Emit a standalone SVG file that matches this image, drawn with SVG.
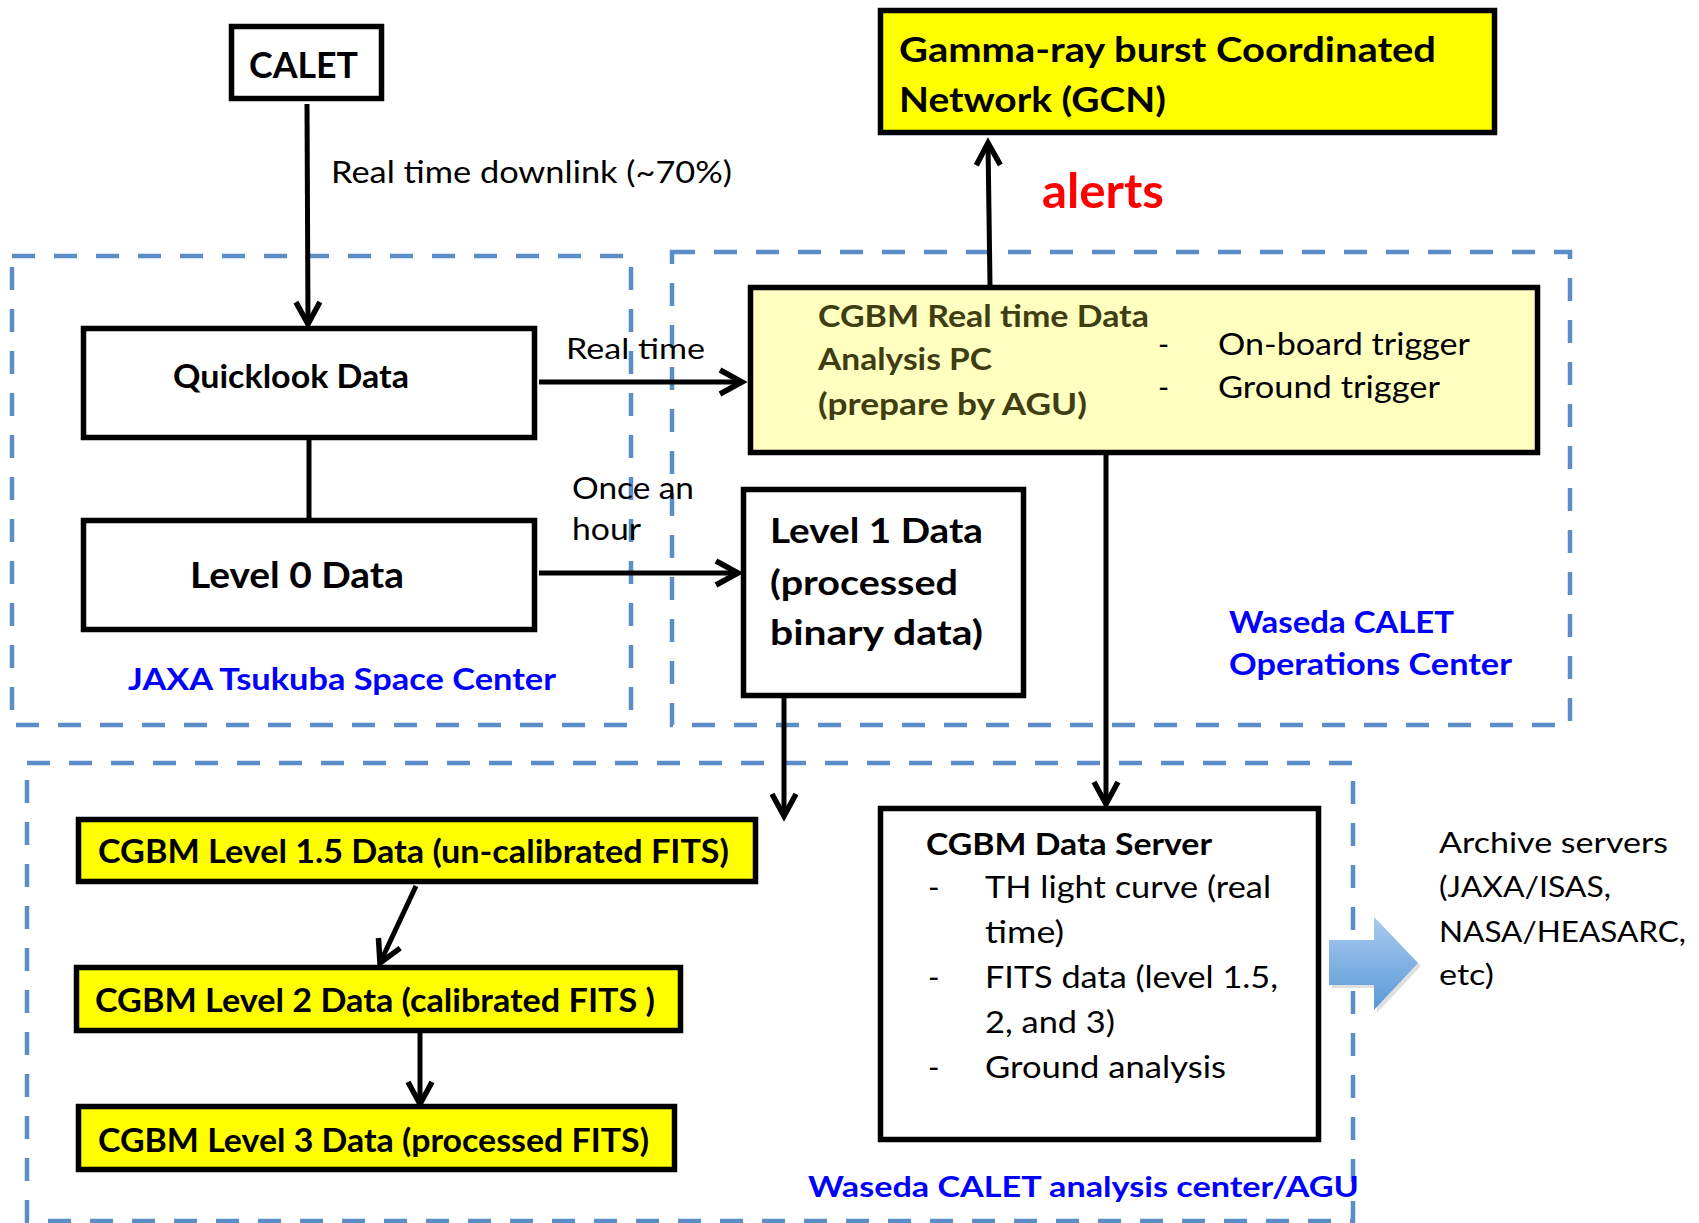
<svg xmlns="http://www.w3.org/2000/svg" width="1699" height="1223" viewBox="0 0 1699 1223">
<style>
text{font-family:Lato,"Liberation Sans",sans-serif}
.b{font-weight:700}
.box{stroke:#000;stroke-width:5.5}
.w{fill:#fff}
.y{fill:#ffff00}
.ly{fill:#ffffc0}
.dash{fill:none;stroke:#5b8dc9;stroke-width:4.5;stroke-dasharray:23 19}
.con{fill:none;stroke:#000;stroke-width:5}
.blue{fill:#0000ff}
.olive{fill:#3f3d12}
</style>
<defs>
<marker id="arr" markerUnits="userSpaceOnUse" markerWidth="32" markerHeight="32" viewBox="-6 -16 32 32" refX="22" refY="0" orient="auto" overflow="visible">
<path d="M0,-12 L22,0 L0,12" fill="none" stroke="#000" stroke-width="5.5"/>
</marker>
<linearGradient id="bg" x1="0" y1="0" x2="0" y2="1">
<stop offset="0" stop-color="#a8cbef"/>
<stop offset="1" stop-color="#5a99d6"/>
</linearGradient>
</defs>
<rect width="1699" height="1223" fill="#fff"/>

<g id="regions">
<rect class="dash" x="12" y="256" width="619" height="469"/>
<rect class="dash" x="672" y="252" width="898" height="473"/>
<rect class="dash" x="27" y="763" width="1326" height="458"/>
<text class="b blue" x="128" y="690" font-size="30" textLength="428" lengthAdjust="spacingAndGlyphs">JAXA Tsukuba Space Center</text>
<text class="b blue" x="1229" y="633" font-size="30" textLength="225" lengthAdjust="spacingAndGlyphs">Waseda CALET</text>
<text class="b blue" x="1229" y="675" font-size="30" textLength="283" lengthAdjust="spacingAndGlyphs">Operations Center</text>
<text class="b blue" x="808" y="1197" font-size="29" textLength="551" lengthAdjust="spacingAndGlyphs">Waseda CALET analysis center/AGU</text>
</g>

<g id="connectors">
<path class="con" d="M307,104 L308,324" marker-end="url(#arr)"/>
<path class="con" d="M309,440 L309,518"/>
<path class="con" d="M539,382 L742,382" marker-end="url(#arr)"/>
<path class="con" d="M539,573 L738,573" marker-end="url(#arr)"/>
<path class="con" d="M990,285 L988,143" marker-end="url(#arr)"/>
<path class="con" d="M1106,455 L1106,804" marker-end="url(#arr)"/>
<path class="con" d="M784,698 L784,816" marker-end="url(#arr)"/>
<path class="con" d="M416,886 L380,963" marker-end="url(#arr)"/>
<path class="con" d="M420,1033 L420,1104" marker-end="url(#arr)"/>
<text x="331" y="183" font-size="31.5" textLength="401" lengthAdjust="spacingAndGlyphs">Real time downlink (~70%)</text>
<text class="b" x="1042" y="208" font-size="47" fill="#ff0000" textLength="122" lengthAdjust="spacingAndGlyphs">alerts</text>
<text x="566" y="359" font-size="29.5" textLength="139" lengthAdjust="spacingAndGlyphs">Real time</text>
<text x="572" y="499" font-size="31" textLength="122" lengthAdjust="spacingAndGlyphs">Once an</text>
<text x="572" y="540" font-size="31" textLength="69" lengthAdjust="spacingAndGlyphs">hour</text>
</g>

<g id="calet">
<rect class="box w" x="231.5" y="26.5" width="150" height="72"/>
<text class="b" x="249" y="78" font-size="37" textLength="109" lengthAdjust="spacingAndGlyphs">CALET</text>
</g>

<g id="gcn">
<rect class="box y" x="880.5" y="10.5" width="614" height="122"/>
<text class="b" x="899" y="62" font-size="35" textLength="537" lengthAdjust="spacingAndGlyphs">Gamma-ray burst Coordinated</text>
<text class="b" x="899" y="112" font-size="35" textLength="267" lengthAdjust="spacingAndGlyphs">Network (GCN)</text>
</g>

<g id="quicklook">
<rect class="box w" x="83.5" y="328.5" width="451" height="109"/>
<text class="b" x="173" y="388" font-size="32.5" textLength="236" lengthAdjust="spacingAndGlyphs">Quicklook Data</text>
</g>

<g id="level0">
<rect class="box w" x="83.5" y="520.5" width="451" height="109"/>
<text class="b" x="190" y="588" font-size="37" textLength="214" lengthAdjust="spacingAndGlyphs">Level 0 Data</text>
</g>

<g id="realtime-pc">
<rect class="box ly" x="750.5" y="287.5" width="787" height="165"/>
<text class="b olive" x="818" y="327" font-size="30" textLength="331" lengthAdjust="spacingAndGlyphs">CGBM Real time Data</text>
<text class="b olive" x="818" y="370" font-size="30" textLength="174" lengthAdjust="spacingAndGlyphs">Analysis PC</text>
<text class="b olive" x="818" y="415" font-size="30" textLength="269" lengthAdjust="spacingAndGlyphs">(prepare by AGU)</text>
<text x="1158" y="355" font-size="30">-</text>
<text x="1158" y="398" font-size="30">-</text>
<text x="1218" y="355" font-size="30" textLength="252" lengthAdjust="spacingAndGlyphs">On-board trigger</text>
<text x="1218" y="398" font-size="30" textLength="222" lengthAdjust="spacingAndGlyphs">Ground trigger</text>
</g>

<g id="level1">
<rect class="box w" x="743.5" y="489.5" width="280" height="206"/>
<text class="b" x="770" y="543" font-size="35" textLength="213" lengthAdjust="spacingAndGlyphs">Level 1 Data</text>
<text class="b" x="770" y="595" font-size="35" textLength="188" lengthAdjust="spacingAndGlyphs">(processed</text>
<text class="b" x="770" y="645" font-size="35" textLength="213" lengthAdjust="spacingAndGlyphs">binary data)</text>
</g>

<g id="level15">
<rect class="box y" x="78.5" y="819.5" width="677" height="62"/>
<text class="b" x="98" y="863" font-size="31.5" textLength="631" lengthAdjust="spacingAndGlyphs">CGBM Level 1.5 Data (un-calibrated FITS)</text>
</g>

<g id="level2">
<rect class="box y" x="76.5" y="967.5" width="604" height="63"/>
<text class="b" x="95" y="1012" font-size="31.5" textLength="560" lengthAdjust="spacingAndGlyphs">CGBM Level 2 Data (calibrated FITS )</text>
</g>

<g id="level3">
<rect class="box y" x="78.5" y="1106.5" width="596" height="63"/>
<text class="b" x="98" y="1152" font-size="31.5" textLength="551" lengthAdjust="spacingAndGlyphs">CGBM Level 3 Data (processed FITS)</text>
</g>

<g id="data-server">
<rect class="box w" x="880.5" y="808.5" width="438" height="331"/>
<text class="b" x="926" y="855" font-size="30" textLength="286" lengthAdjust="spacingAndGlyphs">CGBM Data Server</text>
<text x="928" y="898" font-size="31">-</text>
<text x="928" y="988" font-size="31">-</text>
<text x="928" y="1078" font-size="31">-</text>
<text x="985" y="898" font-size="31" textLength="286" lengthAdjust="spacingAndGlyphs">TH light curve (real</text>
<text x="985" y="943" font-size="31" textLength="79" lengthAdjust="spacingAndGlyphs">time)</text>
<text x="985" y="988" font-size="31" textLength="293" lengthAdjust="spacingAndGlyphs">FITS data (level 1.5,</text>
<text x="985" y="1033" font-size="31" textLength="130" lengthAdjust="spacingAndGlyphs">2, and 3)</text>
<text x="985" y="1078" font-size="31" textLength="241" lengthAdjust="spacingAndGlyphs">Ground analysis</text>
</g>

<g id="archive-arrow">
<polygon points="1332,943 1377,943 1377,920 1421,966 1377,1013 1377,988 1332,988" fill="#000" opacity="0.12"/>
<polygon points="1329,940 1374,940 1374,917 1418,963 1374,1010 1374,985 1329,985" fill="url(#bg)"/>
</g>

<g id="archive">
<text x="1439" y="853" font-size="28" textLength="229" lengthAdjust="spacingAndGlyphs">Archive servers</text>
<text x="1439" y="897" font-size="28" textLength="172" lengthAdjust="spacingAndGlyphs">(JAXA/ISAS,</text>
<text x="1439" y="942" font-size="28" textLength="247" lengthAdjust="spacingAndGlyphs">NASA/HEASARC,</text>
<text x="1439" y="985" font-size="28" textLength="55" lengthAdjust="spacingAndGlyphs">etc)</text>
</g>
</svg>
